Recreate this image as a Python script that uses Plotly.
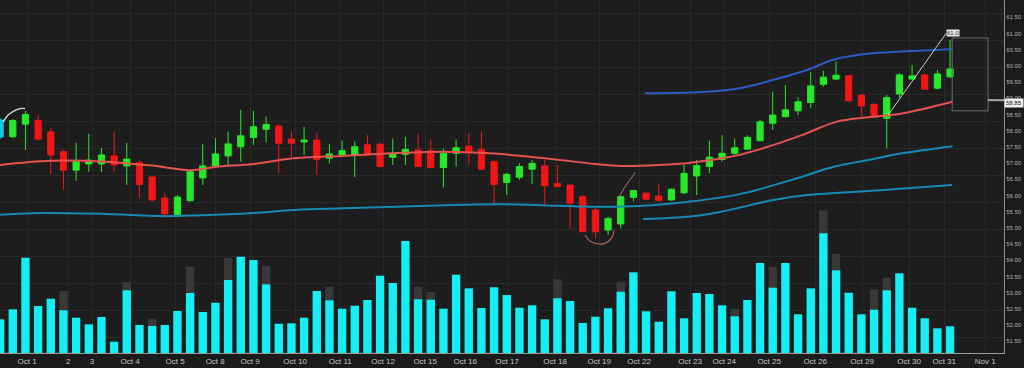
import plotly.graph_objects as go

# ---------------- data ----------------
idx = list(range(76))

opens = [57.80, 57.81, 58.20, 58.31, 57.96, 57.35, 56.78, 56.97, 56.97, 57.22,
         56.91, 57.01, 56.57, 55.92, 55.40, 55.84, 56.54, 56.91, 57.22, 57.50,
         57.79, 58.04, 58.14, 57.74, 57.65, 57.71, 57.15, 57.25, 57.25, 57.56,
         57.58, 57.18, 57.27, 57.40, 57.38, 56.86, 57.30, 57.52, 57.42, 57.04,
         56.40, 56.56, 56.81, 56.91, 56.37, 56.32, 55.96, 55.55, 54.93, 55.12,
         55.94, 56.07, 55.98, 55.86, 56.08, 56.60, 56.89, 57.11, 57.30, 57.43,
         57.69, 58.23, 58.43, 58.61, 58.87, 59.43, 59.59, 59.69, 59.10, 58.81,
         58.38, 59.13, 59.59, 59.72, 59.31, 59.66]
highs = [58.39, 58.36, 58.61, 58.48, 58.08, 57.40, 57.62, 57.90, 57.46, 57.97,
         57.62, 57.09, 56.63, 56.07, 56.01, 56.78, 57.59, 57.77, 57.97, 58.64,
         58.61, 58.43, 58.20, 57.97, 58.12, 57.94, 57.58, 57.69, 57.66, 57.86,
         57.63, 57.76, 57.81, 57.90, 57.73, 57.45, 57.73, 57.92, 57.97, 57.09,
         56.69, 56.99, 57.09, 57.11, 56.94, 56.33, 56.01, 55.61, 55.34, 55.98,
         56.17, 56.08, 56.37, 56.22, 56.94, 57.09, 57.69, 57.86, 57.76, 57.86,
         58.33, 59.20, 59.41, 59.03, 59.82, 59.85, 60.13, 59.70, 59.11, 58.84,
         59.10, 59.77, 60.02, 59.75, 59.87, 60.80]
lows = [57.74, 57.77, 57.40, 57.68, 56.66, 56.17, 56.45, 56.73, 56.73, 56.73,
        56.32, 55.92, 55.80, 55.36, 55.33, 55.80, 56.32, 56.85, 56.94, 57.04,
        57.56, 57.63, 56.70, 57.19, 57.25, 56.63, 56.99, 57.19, 56.56, 57.22,
        56.88, 56.94, 56.94, 56.88, 56.84, 56.25, 56.89, 56.94, 56.78, 55.70,
        56.01, 56.48, 56.35, 55.70, 56.26, 54.98, 54.87, 54.68, 54.78, 54.98,
        55.81, 55.86, 55.81, 55.84, 56.04, 56.01, 56.68, 57.04, 57.25, 57.40,
        57.66, 58.02, 58.41, 58.48, 58.69, 59.36, 59.56, 58.90, 58.41, 58.43,
        57.45, 59.00, 59.56, 59.27, 59.27, 59.62]
closes = [58.33, 58.31, 58.50, 57.74, 57.25, 56.78, 57.04, 57.09, 57.25, 56.94,
          57.12, 56.34, 55.86, 55.43, 55.95, 56.73, 56.91, 57.28, 57.59, 57.84,
          58.12, 58.19, 57.61, 57.61, 57.71, 57.11, 57.28, 57.38, 57.50, 57.25,
          56.89, 57.30, 57.42, 56.89, 56.86, 57.30, 57.47, 57.32, 56.81, 56.34,
          56.65, 56.89, 56.99, 56.30, 56.27, 55.76, 54.88, 54.88, 55.29, 55.96,
          56.15, 55.88, 55.84, 56.19, 56.68, 56.92, 57.18, 57.30, 57.47, 57.79,
          58.27, 58.48, 58.64, 58.89, 59.38, 59.65, 59.71, 58.92, 58.76, 58.46,
          59.02, 59.72, 59.69, 59.28, 59.75, 59.90]

volume = [337, 437, 953, 470, 543, 427, 353, 287, 360, 113,
          627, 280, 270, 280, 420, 600, 410, 503, 730, 963,
          930, 687, 293, 297, 353, 620, 527, 443, 473, 530,
          773, 700, 1120, 537, 533, 443, 783, 647, 450, 657,
          580, 453, 477, 337, 547, 520, 300, 363, 447, 613,
          807, 417, 313, 617, 347, 600, 590, 477, 367, 530,
          900, 653, 900, 387, 647, 1197, 827, 603, 387, 433,
          627, 797, 453, 347, 247, 267]
volume_prev = [None, None, None, None, None, 620, None, None, None, None,
               710, None, 343, None, None, 863, None, None, 953, None,
               None, 870, None, None, None, None, 663, None, None, None,
               None, None, None, 660, 610, None, None, None, None, None,
               None, None, None, None, 737, None, None, None, None, 713,
               None, None, None, None, None, None, None, None, 440, None,
               None, 860, None, None, None, 1427, 990, None, None, 637,
               753, None, None, None, None, None]

ma_x = [0, 4, 8, 12, 15, 17, 20, 23, 27, 31, 35, 39, 43, 47, 49, 52, 54.5,
        57, 58, 60.6, 63.3, 66, 68.5, 71.2, 75.2]
ma_y = [56.94, 57.07, 57.05, 56.92, 56.78, 56.88, 56.97, 57.14, 57.22, 57.30,
        57.35, 57.29, 57.15, 56.97, 56.91, 56.94, 57.01, 57.15, 57.22, 57.50,
        57.86, 58.27, 58.41, 58.53, 58.89]

band_mid_x = [0, 2.6, 7.9, 13.2, 15.8, 19.7, 23.3, 27.2, 31.2, 35.1, 39.1, 42.6,
              46.6, 50.5, 54.5, 58.4, 62.5, 65.9, 68.5, 71.2, 75.2]
band_mid_y = [55.40, 55.45, 55.43, 55.36, 55.39, 55.45, 55.55, 55.60, 55.65,
              55.70, 55.73, 55.70, 55.65, 55.67, 55.81, 56.04, 56.48, 56.89,
              57.09, 57.30, 57.52]

band_low_x = [50.77, 54.48, 56.85, 59.22, 61.03, 63.72, 66.32, 71.62, 75.17]
band_low_y = [55.27, 55.35, 55.49, 55.70, 55.86, 56.01, 56.08, 56.22, 56.32]

band_up_x = [50.9, 55.8, 58.4, 61.0, 63.7, 65.9, 68.5, 71.2, 75.2]
band_up_y = [59.15, 59.20, 59.31, 59.56, 59.87, 60.20, 60.37, 60.44, 60.51]

arc_start_x = [0.24, 0.63, 1.11, 1.58, 1.97]
arc_start_y = [58.27, 58.48, 58.61, 58.68, 58.68]
arc_dip_x = [46.19, 46.58, 47.22, 47.85, 48.32, 48.48]
arc_dip_y = [54.78, 54.59, 54.50, 54.53, 54.72, 54.93]
hook_x = [48.72, 49.43, 49.90, 50.14]
hook_y = [55.86, 56.32, 56.57, 56.72]
trend_x = [70.11, 74.69]
trend_y = [58.48, 61.00]

tick_pos = [2.13, 5.37, 7.26, 10.26, 13.82, 16.98, 19.74, 23.29, 26.85, 30.24,
            33.56, 36.72, 40.03, 43.82, 47.30, 50.45, 54.48, 57.17, 60.72,
            64.35, 68.06, 71.77, 74.54, 77.77]
tick_text = ["Oct 1", "2", "3", "Oct 4", "Oct 5", "Oct 8", "Oct 9", "Oct 10",
             "Oct 11", "Oct 12", "Oct 15", "Oct 16", "Oct 17", "Oct 18",
             "Oct 19", "Oct 22", "Oct 23", "Oct 24", "Oct 25", "Oct 26",
             "Oct 29", "Oct 30", "Oct 31", "Nov 1"]

price_ticks = [62.0 - 0.5 * k for k in range(22)]

x_range = [-0.01, 79.26]
last_price = 58.85
box_x = [75.17, 78.0]
box_y = [58.61, 60.86]
marker_level = 58.94

# ---------------- colours ----------------
BG = "#1d1d1d"
GREEN = "#27e82a"
RED = "#f21616"
CYAN = "#16eef5"
TEAL = "#168ab6"
BLUE = "#2a5cc4"
MA = "#e5534e"

fig = go.Figure()

# volume
fig.add_trace(go.Bar(x=idx, y=volume_prev, yaxis="y2", width=0.66,
                     marker=dict(color="#383838", line=dict(width=0)),
                     hoverinfo="skip"))
fig.add_trace(go.Bar(x=idx, y=volume, yaxis="y2", width=0.66,
                     marker=dict(color=CYAN, line=dict(width=0))))

# bands and moving average
fig.add_trace(go.Scatter(x=band_mid_x, y=band_mid_y, mode="lines",
                         line=dict(color=TEAL, width=2, shape="spline")))
fig.add_trace(go.Scatter(x=band_low_x, y=band_low_y, mode="lines",
                         line=dict(color=TEAL, width=2, shape="spline")))
fig.add_trace(go.Scatter(x=band_up_x, y=band_up_y, mode="lines",
                         line=dict(color=BLUE, width=2, shape="spline")))
fig.add_trace(go.Scatter(x=ma_x, y=ma_y, mode="lines",
                         line=dict(color=MA, width=2, shape="spline")))

# decorations
fig.add_trace(go.Scatter(x=arc_start_x, y=arc_start_y, mode="lines",
                         line=dict(color="#d5dde0", width=1.3, shape="spline")))
fig.add_trace(go.Scatter(x=arc_dip_x, y=arc_dip_y, mode="lines",
                         line=dict(color="#b8695d", width=1.1, shape="spline")))
fig.add_trace(go.Scatter(x=hook_x, y=hook_y, mode="lines",
                         line=dict(color="#b8776a", width=1, shape="spline")))
fig.add_trace(go.Scatter(x=trend_x, y=trend_y, mode="lines",
                         line=dict(color="#c8cccc", width=1)))

# candles (first one highlighted in cyan)
fig.add_trace(go.Candlestick(
    x=idx[1:], open=opens[1:], high=highs[1:], low=lows[1:], close=closes[1:],
    increasing=dict(line=dict(color=GREEN, width=1), fillcolor=GREEN),
    decreasing=dict(line=dict(color=RED, width=1), fillcolor=RED),
    whiskerwidth=0))
fig.add_trace(go.Candlestick(
    x=idx[:1], open=opens[:1], high=highs[:1], low=lows[:1], close=closes[:1],
    increasing=dict(line=dict(color="#19c3e6", width=1), fillcolor="#19c3e6"),
    decreasing=dict(line=dict(color="#19c3e6", width=1), fillcolor="#19c3e6"),
    whiskerwidth=0))

# box / marker on the right
fig.add_shape(type="rect", x0=box_x[0], x1=box_x[1], y0=box_y[0], y1=box_y[1],
              xref="x", yref="y", line=dict(color="#6a6a6a", width=1))
fig.add_shape(type="line", x0=box_x[1], x1=x_range[1], xref="x",
              y0=marker_level, y1=marker_level, yref="y",
              line=dict(color="#a8a8a8", width=2))

fig.add_annotation(x=1.0, xref="paper", xanchor="left", y=last_price, yref="y",
                   text=f"{last_price:.2f}", showarrow=False,
                   font=dict(size=6, color="#111111"), bgcolor="#eeeeee",
                   borderpad=1)
fig.add_annotation(x=trend_x[1], y=trend_y[1], xref="x", yref="y",
                   text=f"{trend_y[1]:.1f}", showarrow=False, xanchor="left",
                   font=dict(size=6, color="#333333"), bgcolor="#e6e6e6",
                   borderpad=0)

fig.update_layout(
    width=1024, height=368,
    margin=dict(l=0, r=20, t=0, b=15),
    paper_bgcolor="#1b1b1b", plot_bgcolor=BG,
    showlegend=False, barmode="overlay", boxgap=0.3,
    font=dict(family="Liberation Sans, Arial, sans-serif", color="#c4c4c4"),
    xaxis=dict(range=x_range, rangeslider=dict(visible=False),
               tickmode="array", tickvals=tick_pos, ticktext=tick_text,
               tickfont=dict(size=8, color="#c4c4c4"),
               showgrid=True, gridcolor="#292929", gridwidth=1,
               showline=True, linecolor="#9a9a9a", linewidth=1,
               zeroline=False, ticks=""),
    yaxis=dict(range=[51.136, 62.031], side="right", tickmode="array",
               tickvals=price_ticks, tickformat=".2f",
               tickfont=dict(size=6, color="#b0b0b0"),
               showgrid=False, showline=True, mirror=True,
               linecolor="#8a8f94", linewidth=1, zeroline=False, ticks=""),
    yaxis2=dict(range=[0, 3530], overlaying="y", side="left",
                showticklabels=False, showgrid=True, gridcolor="#292929",
                tick0=160, dtick=270, zeroline=False, showline=False),
)

fig.write_html(
    "out.html",
    config={"displayModeBar": False},
    post_script="document.body.style.margin='0';document.body.style.padding='0';"
                "document.body.style.background='#1b1b1b';",
)
